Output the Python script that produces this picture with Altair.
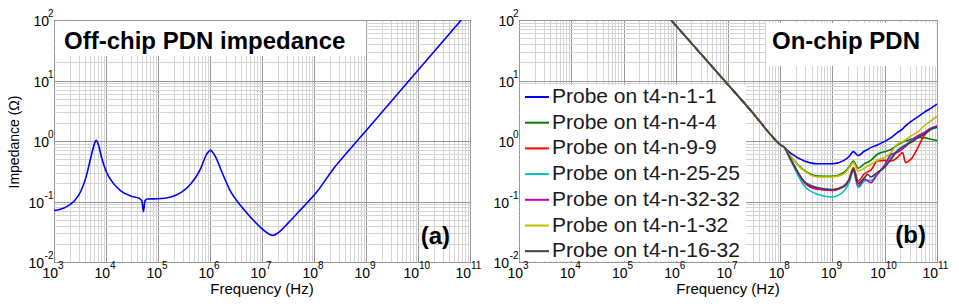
import altair as alt
import pandas as pd

FONT = "Liberation Sans"

# ---------------- Panel (a): off-chip PDN impedance ----------------
freq_a = [1e3, 1.6e3, 2.45e3, 3.3e3, 4.1e3, 5.1e3, 5.95e3, 6.45e3, 7.1e3, 8.25e3,
          1.0e4, 1.35e4, 1.95e4, 3.0e4, 4.35e4, 4.9e4, 5.25e4, 5.6e4, 6.2e4, 9.8e4,
          1.78e5, 2.75e5, 4.25e5, 6.3e5, 8.3e5, 9.0e5, 1.02e6, 1.2e6, 1.3e6, 1.74e6,
          2.5e6, 3.95e6, 6.15e6, 9.5e6, 1.29e7, 1.6e7, 2.07e7, 3.1e7, 5.6e7, 1.17e8,
          2.45e8, 5.1e8, 1e9, 1e10, 6.8e10]
imp_a = [0.071, 0.079, 0.102, 0.149, 0.248, 0.53, 0.88, 1.03, 0.88, 0.53,
         0.32, 0.205, 0.149, 0.123, 0.113, 0.102, 0.068, 0.102, 0.110, 0.111,
         0.119, 0.14, 0.195, 0.32, 0.565, 0.64, 0.70, 0.60, 0.53, 0.29,
         0.145, 0.084, 0.054, 0.037, 0.0298, 0.0275, 0.0305, 0.043, 0.074, 0.149,
         0.362, 0.757, 1.48, 14.8, 100]

# ---------------- Panel (b): on-chip PDN probes ----------------
freq_b = [8.1e5, 3.16e6, 8.5e6, 3.16e7, 6.6e7, 1e8, 1.2e8, 1.58e8, 2.9e8, 5.1e8,
          1e9, 1.66e9, 2.1e9, 2.5e9, 3.1e9, 4.1e9, 4.7e9, 5.4e9, 7.2e9, 9.8e9,
          1.32e10, 1.74e10, 2.2e10, 2.5e10, 3.16e10, 4.3e10, 5.6e10, 7.6e10, 1e11]
z_common = [100, 26.3, 10.0, 2.75, 1.26, 0.87, 0.78]
z_1_1 = [0.63, 0.468, 0.42, 0.42, 0.479, 0.56, 0.667, 0.575, 0.684, 0.724, 0.776,
         0.859, 0.975, 1.135, 1.374, 1.585, 1.778, 2.09, 2.51, 2.95, 3.47, 4.07]
z_4_4 = [0.562, 0.327, 0.264, 0.261, 0.302, 0.38, 0.468, 0.355, 0.422, 0.447, 0.479,
         0.603, 0.667, 0.724, 0.859, 0.955, 1.0, 1.067, 1.135, 1.135, 1.067, 1.026]
z_9_9 = [0.50, 0.205, 0.159, 0.153, 0.18, 0.24, 0.363, 0.219, 0.288, 0.309, 0.327,
         0.468, 0.479, 0.468, 0.531, 0.646, 0.439, 0.498, 0.776, 1.21, 1.56, 1.77]
z_25_25 = [0.479, 0.18, 0.132, 0.119, 0.149, 0.209, 0.319, 0.17, 0.219, 0.224, 0.224,
           0.282, 0.389, 0.545, 0.70, 0.813, 0.859, 1.026, 1.21, 1.318, 1.55, 1.66]
z_32_32 = [0.50, 0.209, 0.162, 0.155, 0.176, 0.229, 0.331, 0.182, 0.234, 0.219, 0.205,
           0.282, 0.389, 0.603, 0.646, 0.741, 0.813, 1.0, 1.21, 1.374, 1.62, 1.77]
z_1_32 = [0.562, 0.32, 0.254, 0.254, 0.288, 0.363, 0.439, 0.319, 0.355, 0.38, 0.411,
          0.479, 0.531, 0.646, 0.881, 0.977, 1.047, 1.21, 1.41, 1.77, 2.14, 2.57]
z_16_32 = [0.50, 0.214, 0.17, 0.158, 0.18, 0.234, 0.34, 0.20, 0.248, 0.282, 0.254,
           0.302, 0.363, 0.498, 0.684, 0.794, 0.851, 0.938, 1.135, 1.29, 1.56, 1.70]

series_names = ["Probe on t4-n-1-1", "Probe on t4-n-4-4", "Probe on t4-n-9-9",
                "Probe on t4-n-25-25", "Probe on t4-n-32-32", "Probe on t4-n-1-32",
                "Probe on t4-n-16-32"]
series_tails = [z_1_1, z_4_4, z_9_9, z_25_25, z_32_32, z_1_32, z_16_32]
series_colors = ["#0000ff", "#008000", "#ff0000", "#00bfbf", "#bf00bf", "#bfbf00", "#404040"]

# tick labels (powers of ten) and texts
x_major = [1e3, 1e4, 1e5, 1e6, 1e7, 1e8, 1e9, 1e10, 1e11]
y_major = [1e-2, 1e-1, 1e0, 1e1, 1e2]
title_a = "Off-chip PDN impedance"
title_b = "On-chip PDN"
tag_a = "(a)"
tag_b = "(b)"
x_title = "Frequency (Hz)"
y_title = "Impedance (Ω)"

# ---------------- tables ----------------
df_a = pd.DataFrame({"f": freq_a, "z": imp_a})
rows = []
for name, tail in zip(series_names, series_tails):
    for f, z in zip(freq_b, z_common + tail):
        rows.append({"f": f, "z": z, "probe": name})
df_b = pd.DataFrame(rows)
df_xm = pd.DataFrame({"v": x_major})
df_ym = pd.DataFrame({"v": y_major})

# ---------------- scales / grid ----------------
x_grid = [k * 10.0 ** e for e in range(3, 11) for k in range(1, 10)] + [1e11]
y_grid = [k * 10.0 ** e for e in range(-2, 2) for k in range(1, 10)] + [1e2]
major = "abs(log(datum.value)/LN10 - round(log(datum.value)/LN10)) < 0.01"
grid_color = {"condition": {"test": major, "value": "#969696"}, "value": "#d4d4d4"}

xs = alt.Scale(type="log", domain=[1e3, 1e11], nice=False)
ys = alt.Scale(type="log", domain=[1e-2, 1e2], nice=False)

W_A, W_B, H = 416, 418, 242
BASE_FS, EXP_FS = 14, 10


def grid_axis(vals):
    return alt.Axis(values=vals, grid=True, gridColor=grid_color, gridWidth=1,
                    labels=False, ticks=False, domain=False, title=None)


X_AX = grid_axis(x_grid)
Y_AX = grid_axis(y_grid)


def txt(text, x, y, size=24, bold=True, align="left", angle=None, baseline="alphabetic"):
    kw = dict(font=FONT, fontSize=size, fontWeight="bold" if bold else "normal",
              color="black", align=align, baseline=baseline)
    if angle is not None:
        kw["angle"] = angle
    return alt.Chart(pd.DataFrame({"t": [text]})).mark_text(**kw).encode(
        text="t:N", x=alt.value(x), y=alt.value(y))


def white_box(x1, x2, y1, y2):
    return alt.Chart(pd.DataFrame({"k": [0]})).mark_rect(color="white").encode(
        x=alt.value(x1), x2=alt.value(x2), y=alt.value(y1), y2=alt.value(y2))


def x_labels():
    base = alt.Chart(df_xm).transform_calculate(e="'' + round(log(datum.v)/LN10)")
    out = []
    for cond, off in [("datum.v < 1e10", 4), ("datum.v >= 1e10", 1)]:
        b = base.transform_filter(cond)
        out.append(b.mark_text(font=FONT, fontSize=BASE_FS, align="right",
                               baseline="alphabetic", dx=off, color="black").encode(
            x=alt.X("v:Q", scale=xs, axis=X_AX), y=alt.value(H + 16), text=alt.value("10")))
        out.append(b.mark_text(font=FONT, fontSize=EXP_FS, align="left",
                               baseline="alphabetic", dx=off, color="black").encode(
            x=alt.X("v:Q", scale=xs, axis=X_AX), y=alt.value(H + 7), text="e:N"))
    return out


def y_labels():
    base = alt.Chart(df_ym).transform_calculate(e="'' + round(log(datum.v)/LN10)")
    out = []
    for cond, off in [("datum.v >= 1", -5), ("datum.v < 1", -10)]:
        b = base.transform_filter(cond)
        out.append(b.mark_text(font=FONT, fontSize=BASE_FS, align="right",
                               baseline="alphabetic", dy=6, color="black").encode(
            y=alt.Y("v:Q", scale=ys, axis=Y_AX), x=alt.value(off), text=alt.value("10")))
    out.append(base.mark_text(font=FONT, fontSize=EXP_FS, align="right",
                              baseline="alphabetic", dy=-3, color="black").encode(
        y=alt.Y("v:Q", scale=ys, axis=Y_AX), x=alt.value(-0.5), text="e:N"))
    return out


# ---------------- panel (a) ----------------
line_a = alt.Chart(df_a).mark_line(color="#0000ff", strokeWidth=1.6,
                                   interpolate="monotone", clip=True).encode(
    x=alt.X("f:Q", scale=xs, axis=X_AX),
    y=alt.Y("z:Q", scale=ys, axis=Y_AX),
)
panel_a = alt.layer(
    line_a, white_box(1, 312, 1, 36),
    txt(title_a, 10, 29),
    txt(tag_a, 396, 224, align="right"),
    *x_labels(), *y_labels(),
    txt(x_title, W_A / 2, H + 32, size=15, bold=False, align="center"),
    txt(y_title, -39, 122, size=14, bold=False, align="center", angle=270,
        baseline="middle"),
).properties(width=W_A, height=H)

# ---------------- panel (b) ----------------
lines_b = alt.Chart(df_b).mark_line(strokeWidth=1.6, interpolate="monotone",
                                    clip=True).encode(
    x=alt.X("f:Q", scale=xs, axis=X_AX),
    y=alt.Y("z:Q", scale=ys, axis=Y_AX),
    color=alt.Color("probe:N", sort=series_names,
                    scale=alt.Scale(domain=series_names, range=series_colors),
                    legend=alt.Legend(orient="none", legendX=1, legendY=60,
                                      title=None, padding=4,
                                      labelFont=FONT, labelFontSize=21,
                                      labelColor="#1a1a1a", symbolType="stroke",
                                      symbolSize=576, symbolStrokeWidth=2,
                                      rowPadding=2.7, labelOffset=2, labelLimit=0)),
)
panel_b = alt.layer(
    white_box(1, 227, 65, 241),
    lines_b, white_box(247, 417, 3, 46),
    txt(title_b, 401, 29, align="right"),
    txt(tag_b, 407, 223, align="right"),
    *x_labels(), *y_labels(),
    txt(x_title, W_B / 2, H + 32, size=15, bold=False, align="center"),
).properties(width=W_B, height=H)

chart = alt.hconcat(panel_a, panel_b, spacing=49, bounds="flush").resolve_legend(
    color="independent"
).properties(
    padding={"left": 7, "top": 8, "right": 5, "bottom": 2},
    background="white",
).configure_view(stroke="black", strokeWidth=1)

chart.save("out.html", embed_options={"renderer": "svg", "actions": False})
